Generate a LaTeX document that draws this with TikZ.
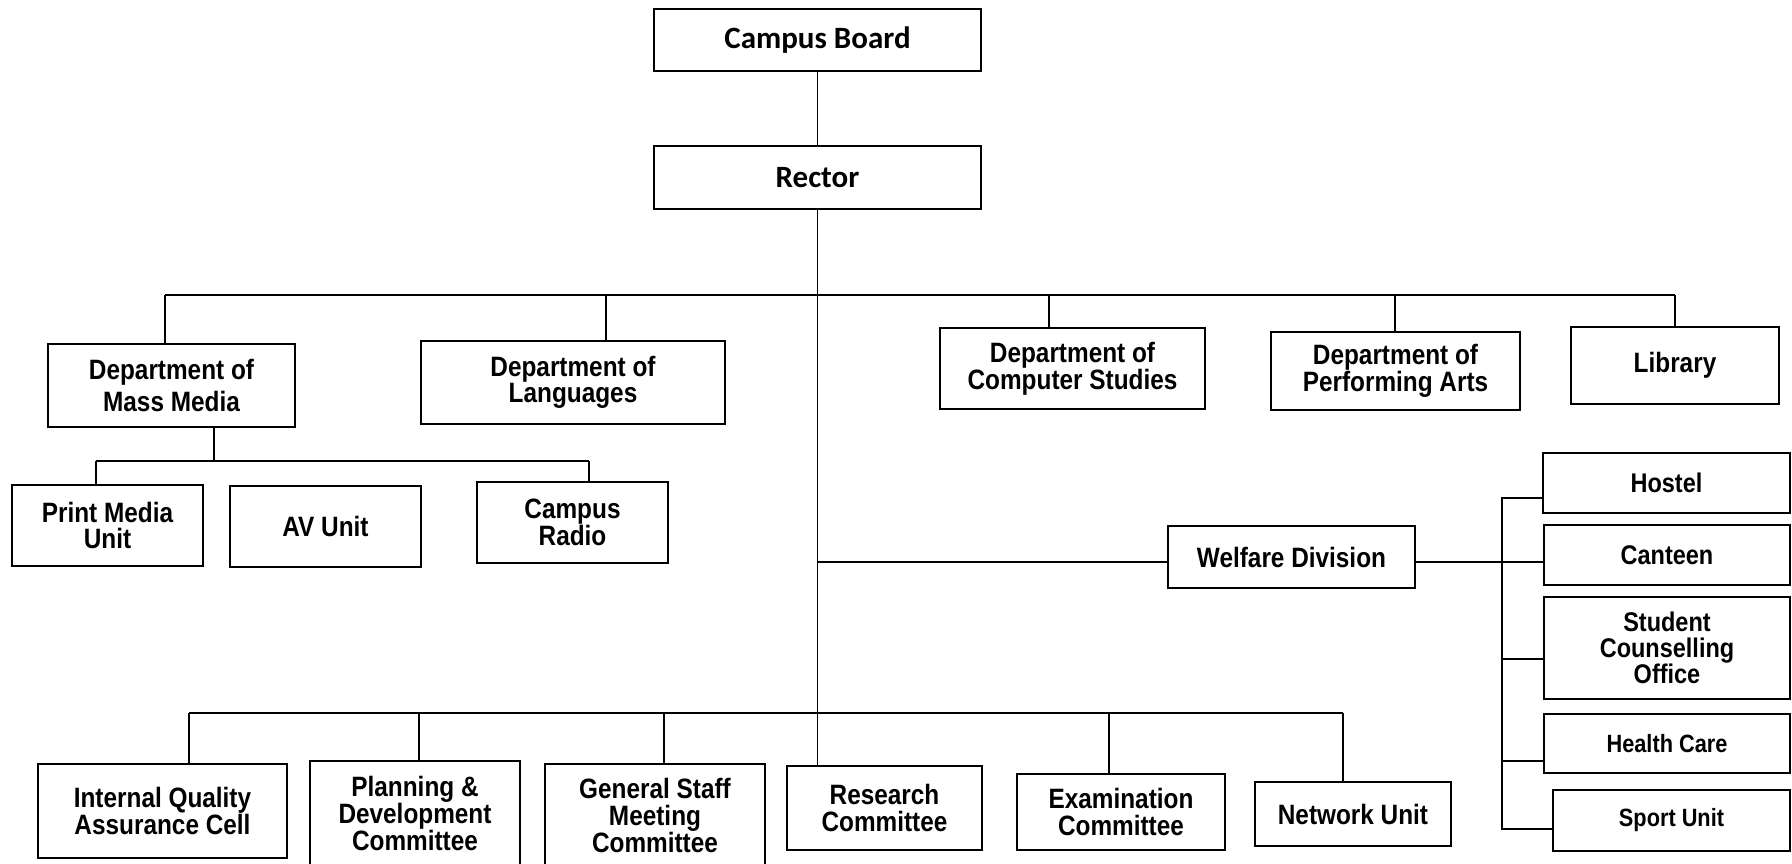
\documentclass[tikz,border=0pt]{standalone}
\usepackage{fontspec}
\setmainfont{Liberation Sans}[FakeStretch=0.87]
\newfontfamily\boardfont{Carlito}
\tikzset{
	unit/.style={draw, line width=2.2pt, align=center, inner sep=0pt, font=\fontsize{28}{26}\selectfont\bfseries},
	topunit/.style={unit, font=\boardfont\fontsize{31}{31}\selectfont\bfseries},
	lowunit/.style={unit, font=\fontsize{28}{27}\selectfont\bfseries},
	sideunit/.style={unit, font=\fontsize{26}{23}\selectfont\bfseries},
	link/.style={line width=1.3pt}
}
\begin{document}
\begin{tikzpicture}[x=1pt,y=-1pt]
	\useasboundingbox (0,0) rectangle (1792,864);
	%board + rector
		\node[topunit, minimum width=327, minimum height=62] (board) at (817.5,40) {Campus Board};
		\node[topunit, minimum width=327, minimum height=63] (rector) at (817.5,177.5) {Rector};
	%departments
		\node[unit, font=\fontsize{28}{32}\selectfont\bfseries, minimum width=247, minimum height=83] (massmedia) at (171.5,385.5) {Department of\\Mass Media};
		\node[unit, minimum width=304, minimum height=83] (languages) at (573,382.5) {Department of\\Languages};
		\node[unit, minimum width=265, minimum height=81] (compstud) at (1072.5,368.5) {Department of\\Computer Studies};
		\node[unit, minimum width=249, minimum height=78] (perfarts) at (1395.5,371) {Department of\\Performing Arts};
		\node[unit, minimum width=208, minimum height=77] (library) at (1675,365.5) {Library};
	%mass media units
		\node[unit, minimum width=191, minimum height=81] (printmedia) at (107.5,525.5) {Print Media\\Unit};
		\node[unit, minimum width=191, minimum height=81] (avunit) at (325.5,526.5) {AV Unit};
		\node[unit, minimum width=191, minimum height=81] (radio) at (572.5,522.5) {Campus\\Radio};
	%welfare
		\node[unit, minimum width=247, minimum height=62] (welfare) at (1291.5,557) {Welfare Division};
		\node[sideunit, font=\fontsize{27}{23}\selectfont\bfseries, minimum width=247, minimum height=60] (hostel) at (1666.5,483) {Hostel};
		\node[sideunit, font=\fontsize{27}{23}\selectfont\bfseries, minimum width=246, minimum height=60] (canteen) at (1667,555) {Canteen};
		\node[sideunit, font=\fontsize{27}{26}\selectfont\bfseries, minimum width=246, minimum height=102] (sco) at (1667,648) {Student\\Counselling\\Office};
		\node[sideunit, font=\fontsize{25}{23}\selectfont\bfseries, minimum width=246, minimum height=59] (health) at (1667,743.5) {Health Care};
		\node[sideunit, font=\fontsize{25}{23}\selectfont\bfseries, minimum width=237, minimum height=61] (sport) at (1671.5,820.5) {Sport Unit};
	%committees
		\node[lowunit, minimum width=249, minimum height=94] (iqac) at (162.5,811) {Internal Quality\\Assurance Cell};
		\node[lowunit, minimum width=210, minimum height=105] (planning) at (415,813.5) {Planning \&\\Development\\Committee};
		\node[lowunit, minimum width=220, minimum height=102] (gsmc) at (655,815) {General Staff\\Meeting\\Committee};
		\node[lowunit, minimum width=195, minimum height=84] (research) at (884.5,808) {Research\\Committee};
		\node[lowunit, minimum width=208, minimum height=76] (exam) at (1121,812) {Examination\\Committee};
		\node[lowunit, minimum width=196, minimum height=64] (network) at (1353,814) {Network Unit};
	%main line
		\draw[link] (board) -- (rector);
		\draw[link] (rector.south) -- (rector.south |- research.north);
	%top bus
		\coordinate (busA) at (165,295);
		\coordinate (busB) at (606,295);
		\coordinate (busC) at (1049,295);
		\coordinate (busD) at (1395,295);
		\coordinate (busE) at (1675,295);
		\draw[link] (busA) -- (busE);
		\draw[link] (busA) -- (busA |- massmedia.north);
		\draw[link] (busB) -- (busB |- languages.north);
		\draw[link] (busC) -- (busC |- compstud.north);
		\draw[link] (busD) -- (busD |- perfarts.north);
		\draw[link] (busE) -- (busE |- library.north);
	%mass media bus
		\coordinate (mmJoin) at (214,461);
		\coordinate (mmL) at (96,461);
		\coordinate (mmR) at (589,461);
		\draw[link] (mmJoin |- massmedia.south) -- (mmJoin);
		\draw[link] (mmL) -- (mmR);
		\draw[link] (mmL) -- (mmL |- printmedia.north);
		\draw[link] (mmR) -- (mmR |- radio.north);
	%welfare links
		\coordinate (wfJoin) at (817.5,562);
		\draw[link] (wfJoin) -- (wfJoin -| welfare.west);
		\draw[link] (wfJoin -| welfare.east) -- (wfJoin -| canteen.west);
		\coordinate (rbTop) at (1502,498);
		\coordinate (rbSco) at (1502,659);
		\coordinate (rbHealth) at (1502,761);
		\coordinate (rbBot) at (1502,829);
		\draw[link] (rbTop -| hostel.west) -- (rbTop) -- (rbBot) -- (rbBot -| sport.west);
		\draw[link] (rbSco) -- (rbSco -| sco.west);
		\draw[link] (rbHealth) -- (rbHealth -| health.west);
	%committee bus
		\coordinate (lowA) at (189,713);
		\coordinate (lowB) at (419,713);
		\coordinate (lowC) at (664,713);
		\coordinate (lowD) at (1109,713);
		\coordinate (lowE) at (1343,713);
		\draw[link] (lowA) -- (lowE);
		\draw[link] (lowA) -- (lowA |- iqac.north);
		\draw[link] (lowB) -- (lowB |- planning.north);
		\draw[link] (lowC) -- (lowC |- gsmc.north);
		\draw[link] (lowD) -- (lowD |- exam.north);
		\draw[link] (lowE) -- (lowE |- network.north);
\end{tikzpicture}
\end{document}
